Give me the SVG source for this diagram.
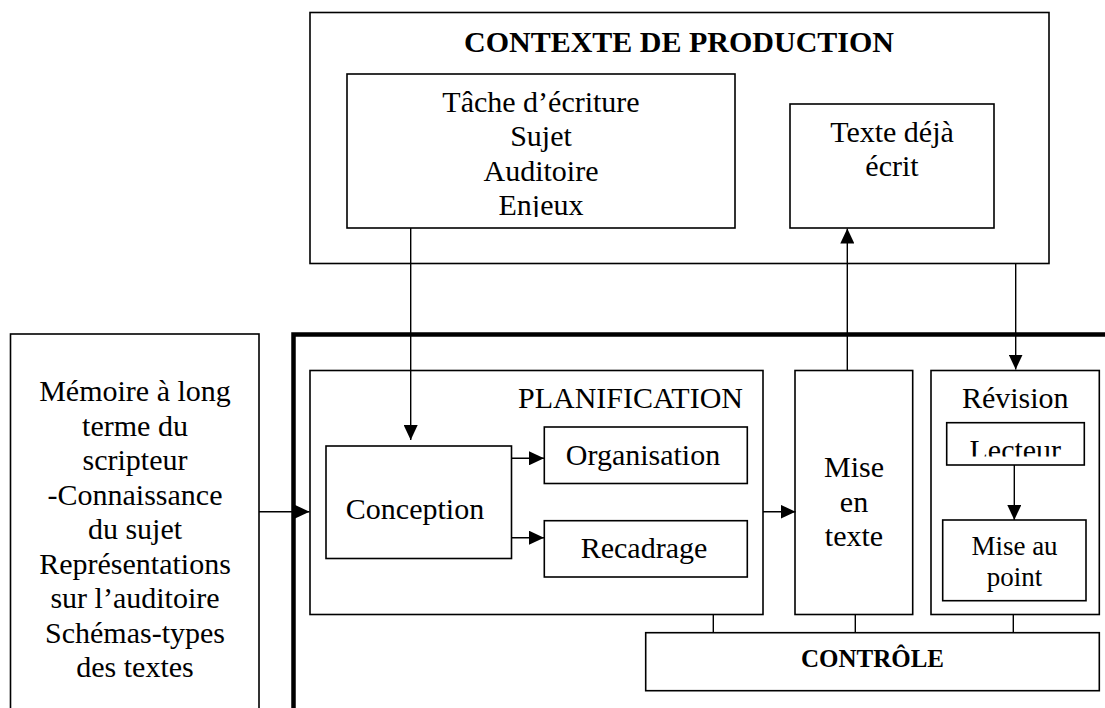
<svg xmlns="http://www.w3.org/2000/svg" width="1105" height="708" viewBox="0 0 1105 708">
  <style>
    .box { fill: #fff; stroke: #000; stroke-width: 1.6; }
    .frame { fill: none; stroke: #000; stroke-width: 4.5; }
    .wire { fill: none; stroke: #000; stroke-width: 1.4; }
    .arrow { fill: none; stroke: #000; stroke-width: 1.4; marker-end: url(#head); }
    text { font-family: "Liberation Serif", "Times New Roman", serif; font-size: 30px; fill: #000; text-anchor: middle; }
    .title { font-weight: bold; }
  </style>
  <defs>
    <marker id="head" markerUnits="userSpaceOnUse" markerWidth="15" markerHeight="14" refX="15" refY="7" orient="auto">
      <path d="M0,0 L15,7 L0,14 Z" fill="#000"/>
    </marker>
    <clipPath id="clip-tache"><rect x="347" y="74" width="388" height="143"/></clipPath>
    <clipPath id="clip-lecteur"><rect x="947" y="423" width="137" height="33.5"/></clipPath>
  </defs>
  <rect width="1105" height="708" fill="#fff"/>

  <!-- production context -->
  <g id="contexte">
    <rect class="box" x="310" y="12.5" width="739" height="251"/>
    <text class="title" x="679" y="52">CONTEXTE DE PRODUCTION</text>
  </g>
  <g id="tache">
    <rect class="box" x="347" y="74" width="388" height="154"/>
    <g clip-path="url(#clip-tache)">
      <text x="541" y="111.5">Tâche d’écriture</text>
      <text x="541" y="146">Sujet</text>
      <text x="541" y="180.5">Auditoire</text>
      <text x="541" y="215">Enjeux</text>
    </g>
  </g>
  <g id="texte-deja-ecrit">
    <rect class="box" x="790" y="104" width="204" height="124"/>
    <text x="892" y="141.5">Texte déjà</text>
    <text x="892" y="175.5">écrit</text>
  </g>

  <!-- long-term memory -->
  <g id="memoire">
    <rect class="box" x="10.5" y="334" width="248.5" height="400"/>
    <text x="135" y="401">Mémoire à long</text>
    <text x="135" y="435.5">terme du</text>
    <text x="135" y="470">scripteur</text>
    <text x="135" y="504.5">-Connaissance</text>
    <text x="135" y="539">du sujet</text>
    <text x="135" y="573.5">Représentations</text>
    <text x="135" y="608">sur l’auditoire</text>
    <text x="135" y="642.5">Schémas-types</text>
    <text x="135" y="677">des textes</text>
  </g>

  <!-- writing processes frame -->
  <g id="processus">
    <path class="frame" d="M293.5,712 V334.5 H1110"/>
  </g>
  <g id="planification">
    <rect class="box" x="310" y="370.5" width="453" height="244"/>
    <text x="743" y="408.3" style="text-anchor:end">PLANIFICATION</text>
  </g>
  <g id="conception">
    <rect class="box" x="326" y="446" width="185.5" height="112.5"/>
    <text x="415" y="519">Conception</text>
  </g>
  <g id="organisation">
    <rect class="box" x="544.3" y="427" width="203" height="56.5"/>
    <text x="643" y="464.5">Organisation</text>
  </g>
  <g id="recadrage">
    <rect class="box" x="544.3" y="520.7" width="203" height="56.3"/>
    <text x="644" y="558">Recadrage</text>
  </g>
  <g id="mise-en-texte">
    <rect class="box" x="795" y="370.5" width="117.7" height="244"/>
    <text x="854" y="477.3">Mise</text>
    <text x="854" y="511.7">en</text>
    <text x="854" y="546">texte</text>
  </g>
  <g id="revision">
    <rect class="box" x="931" y="370.5" width="168.3" height="244"/>
    <text x="1015.3" y="408.3">Révision</text>
  </g>
  <g id="lecteur">
    <rect class="box" x="946.7" y="422.7" width="137.6" height="42.3"/>
    <text x="1015.3" y="460" clip-path="url(#clip-lecteur)">Lecteur</text>
  </g>
  <g id="mise-au-point">
    <rect class="box" x="942.7" y="520" width="143.3" height="80.7"/>
    <text x="1014.5" y="555" style="font-size:27px">Mise au</text>
    <text x="1014.5" y="585.5" style="font-size:27px">point</text>
  </g>
  <g id="controle">
    <rect class="box" x="645.7" y="632.7" width="453.6" height="58"/>
    <text class="title" x="872.5" y="667.3" style="font-size:25px">CONTRÔLE</text>
  </g>

  <!-- connectors -->
  <g id="connecteurs">
    <line class="arrow" x1="410.7" y1="228" x2="410.7" y2="440"/>
    <line class="arrow" x1="847.3" y1="370.5" x2="847.3" y2="228.5"/>
    <line class="arrow" x1="1015.7" y1="263.5" x2="1015.7" y2="369.5"/>
    <line class="arrow" x1="259" y1="511.7" x2="309.5" y2="511.7"/>
    <line class="arrow" x1="511.5" y1="458.3" x2="544" y2="458.3"/>
    <line class="arrow" x1="511.5" y1="537.7" x2="544" y2="537.7"/>
    <line class="arrow" x1="763" y1="511.7" x2="795.5" y2="511.7"/>
    <line class="arrow" x1="1014.3" y1="465" x2="1014.3" y2="520"/>
    <line class="wire" x1="713.3" y1="614.5" x2="713.3" y2="632.7"/>
    <line class="wire" x1="855.3" y1="614.5" x2="855.3" y2="632.7"/>
    <line class="wire" x1="1013.3" y1="614.5" x2="1013.3" y2="632.7"/>
  </g>
</svg>
